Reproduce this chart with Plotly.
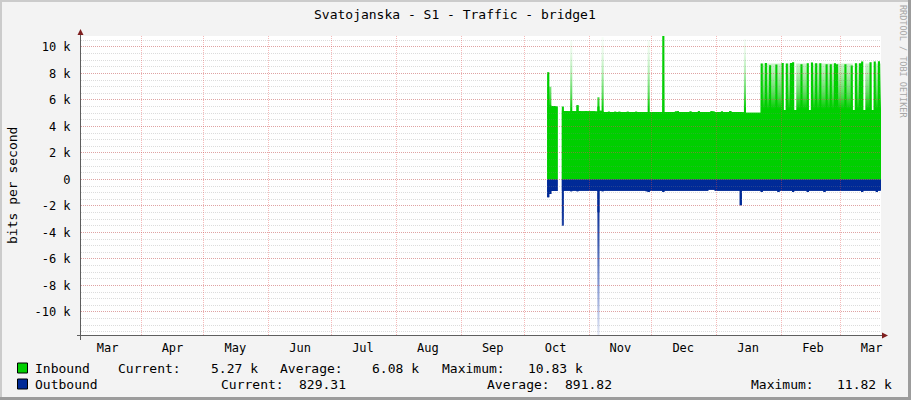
import pandas as pd
import plotly.graph_objects as go

# ---------------- data ----------------
title = "Svatojanska - S1 - Traffic - bridge1"
y_title = "bits per second"

# daily samples from 2018-10-12 to 2019-03-20 (bits per second); None = no data
start_day = "2018-10-12"
n_days = 160

inbound_avg = [
    # Oct 12-31
    8100, 5600, 5550, 5550, 5500, None, None, 5200, 5160, 5160, 5150, 5160, 5160, 5150, 5600, 5160, 5150, 5150, 5160, 5150,
    # Nov
    5150, 5140, 5140, 5130, 5500, 5180, 5150, 5100, 5100, 5110, 5100, 5100, 5120, 5100, 5110, 5100, 5100, 5100, 5110, 5100,
    5100, 5100, 5110, 5100, 5100, 5090, 5100, 5100, 5100, 5100,
    # Dec
    5100, 5090, 5100, 5100, 5090, 10830, 5100, 5090, 5100, 5090, 5100, 5130, 5150, 5100, 5090, 5100, 5100, 5100, 5130, 5090,
    5100, 5100, 5150, 5100, 5090, 5100, 5090, 5100, 5150, 5130, 5100,
    # Jan
    5100, 5100, 5130, 5100, 5090, 5100, 5160, 5100, 5100, 5090, 5100, 5100, 5080, 5040, 5040, 5040, 5030, 5040, 5040, 5030,
    5040, 8750, 5250, 8800, 5250, 8620, 5250, 5250, 8670, 5250, 5250,
    # Feb
    8800, 5250, 8750, 5250, 8800, 8850, 5250, 5250, 5250, 8700, 5250, 5250, 8770, 5250, 8820, 5250, 8770, 5250, 8770, 5250,
    5250, 8700, 5250, 8700, 5250, 8770, 8700, 5250,
    # Mar 1-20
    5250, 5250, 8700, 5250, 5250, 8600, 5250, 8770, 5250, 8770, 8900, 5250, 5250, 5250, 8850, 5250, 8900, 5250, 8920, 5270,
]

inbound_peak = [
    # Oct 12-31
    8100, 7000, 5550, 5550, 5500, None, None, 5500, 5160, 5160, 5150, 10500, 5160, 5150, 5600, 5160, 5150, 5150, 5160, 5150,
    # Nov
    5150, 5140, 5140, 5130, 6200, 5180, 10750, 5100, 5100, 5110, 5100, 5100, 5120, 5100, 5110, 5100, 5100, 5100, 5110, 5100,
    5100, 5100, 5110, 5100, 5100, 5090, 5100, 5100, 10500, 5100,
    # Dec
    5100, 5090, 5100, 5100, 5090, 10830, 5100, 5090, 5100, 5090, 5100, 5130, 5150, 5100, 5090, 5100, 5100, 5100, 5130, 5090,
    5100, 5100, 5150, 5100, 5090, 5100, 5090, 5100, 5150, 5130, 5100,
    # Jan
    5100, 5100, 5130, 5100, 5090, 5100, 5160, 5100, 5100, 5090, 5100, 5100, 5080, 10600, 5040, 5040, 5030, 5040, 5040, 5030,
    5040, 8750, 8750, 8800, 8750, 8750, 8750, 8750, 8750, 8750, 8750,
    # Feb
    8800, 5250, 8750, 8750, 8800, 8850, 5250, 8750, 8750, 8750, 8750, 8750, 8770, 5250, 8820, 8750, 8770, 8750, 8770, 8750,
    8750, 8750, 8750, 8750, 8750, 8770, 8750, 8750,
    # Mar 1-20
    8750, 8750, 8750, 8750, 8750, 8750, 5250, 8770, 8750, 8770, 8900, 5250, 8750, 8750, 8850, 5250, 8900, 8750, 8920, 8750,
]

outbound_avg = [
    # Oct 12-31
    -1350, -1100, -870, -870, -870, None, None, -850, -850, -860, -850, -900, -850, -850, -900, -850, -850, -850, -850, -850,
    # Nov
    -860, -850, -850, -850, -2500, -850, -900, -850, -850, -850, -850, -850, -850, -850, -850, -850, -850, -850, -850, -850,
    -850, -850, -850, -850, -850, -850, -850, -900, -950, -850,
    # Dec
    -850, -850, -850, -850, -850, -950, -850, -850, -850, -850, -850, -850, -850, -850, -850, -850, -850, -850, -850, -850,
    -850, -850, -850, -850, -850, -850, -850, -780, -780, -780, -850,
    # Jan
    -850, -850, -850, -850, -850, -850, -850, -850, -850, -850, -850, -1950, -850, -850, -850, -850, -850, -850, -850, -850,
    -850, -950, -850, -850, -850, -850, -850, -850, -850, -950, -850,
    # Feb
    -850, -850, -850, -850, -850, -950, -850, -850, -850, -850, -850, -850, -950, -850, -850, -850, -850, -850, -850, -850,
    -950, -850, -850, -850, -850, -850, -850, -850,
    # Mar 1-20
    -850, -850, -850, -850, -850, -850, -850, -850, -850, -850, -950, -850, -850, -850, -850, -850, -850, -950, -850, -829,
]

outbound_peak = [
    # Oct 12-31
    -1350, -1100, -870, -870, -870, None, None, -3500, -850, -860, -850, -900, -850, -850, -900, -850, -850, -850, -850, -850,
    # Nov
    -860, -850, -850, -850, -11820, -850, -900, -850, -850, -850, -850, -850, -850, -850, -850, -850, -850, -850, -850, -850,
    -850, -850, -850, -850, -850, -850, -850, -900, -950, -850,
    # Dec
    -850, -850, -850, -850, -850, -950, -850, -850, -850, -850, -850, -850, -850, -850, -850, -850, -850, -850, -850, -850,
    -850, -850, -850, -850, -850, -850, -850, -780, -780, -780, -850,
    # Jan
    -850, -850, -850, -850, -850, -850, -850, -850, -850, -850, -850, -1950, -850, -850, -850, -850, -850, -850, -850, -850,
    -850, -950, -850, -850, -850, -850, -850, -850, -850, -950, -850,
    # Feb
    -850, -850, -850, -850, -850, -950, -850, -850, -850, -850, -850, -850, -950, -850, -850, -850, -850, -850, -850, -850,
    -950, -850, -850, -850, -850, -850, -850, -850,
    # Mar 1-20
    -850, -850, -850, -850, -850, -850, -850, -850, -850, -850, -950, -850, -850, -850, -850, -850, -850, -950, -850, -829,
]

x_range = ["2018-03-03 07:00", "2019-03-20 11:45"]
y_range = [-11820, 10830]

month_labels = ["Mar", "Apr", "May", "Jun", "Jul", "Aug", "Sep", "Oct", "Nov", "Dec", "Jan", "Feb", "Mar"]
month_label_dates = ["2018-03-16", "2018-04-16", "2018-05-16", "2018-06-16", "2018-07-16", "2018-08-16",
                     "2018-09-16", "2018-10-16", "2018-11-16", "2018-12-16", "2019-01-16", "2019-02-16",
                     "2019-03-16"]
month_starts = ["2018-04-01", "2018-05-01", "2018-06-01", "2018-07-01", "2018-08-01", "2018-09-01",
                "2018-10-01", "2018-11-01", "2018-12-01", "2019-01-01", "2019-02-01", "2019-03-01"]

y_tick_vals = [10000, 8000, 6000, 4000, 2000, 0, -2000, -4000, -6000, -8000, -10000]
y_tick_text = ["10 k", "8 k", "6 k", "4 k", "2 k", "0", "-2 k", "-4 k", "-6 k", "-8 k", "-10 k"]

legend_rows = [
    # name, colour, [(label, value), ...]
    ("Inbound", "#00CF00", [("Current:", "5.27 k"), ("Average:", "6.08 k"), ("Maximum:", "10.83 k")]),
    ("Outbound", "#002A97", [("Current:", "829.31"), ("Average:", "891.82"), ("Maximum:", "11.82 k")]),
]

# ---------------- layout geometry (pixels) ----------------
W, H = 911, 400
L, R, T, B = 81, 881, 36, 336
PW, PH = R - L, B - T

def px(x):
    return (x - L) / PW

def py(y):
    return (B - y) / PH

FONT = "DejaVu Sans Mono"
IN_COLOR = "#00CF00"
OUT_COLOR = "#002A97"
MGRID = "rgba(230,70,70,0.38)"
GRID = "rgba(128,128,128,0.28)"

dates = pd.date_range(start_day, periods=n_days, freq="D")
one_day = pd.Timedelta(days=1)


def step_segments(xs, ys):
    """Split a daily series at missing samples; each sample covers one day."""
    segs, cx, cy = [], [], []
    for d, v in zip(xs, ys):
        if v is None:
            if cx:
                segs.append((cx, cy))
            cx, cy = [], []
        else:
            cx.append(d)
            cy.append(v)
    if cx:
        segs.append((cx, cy))
    return [(sx + [sx[-1] + one_day], sy + [sy[-1]]) for sx, sy in segs]


IN_FADE = dict(type="vertical", start=0, stop=10830,
               colorscale=[[0, "#00CF00"], [0.49, "#00CF00"], [0.6, "#5EDC5E"],
                           [0.75, "#B5EEB5"], [0.88, "#E6F9E6"], [1, "#FAFFFA"]])
OUT_FADE = dict(type="vertical", start=-11820, stop=0,
                colorscale=[[0, "#E4E9F6"], [0.3, "#8DA0D6"], [0.6, "#3C5CB0"],
                            [0.8, "#0E339B"], [1, "#002A97"]])

fig = go.Figure()

def add_area(values, **fill):
    for sx, sy in step_segments(list(dates), values):
        fig.add_trace(go.Scatter(
            x=sx, y=sy, mode="lines", line=dict(width=0, shape="hv", simplify=False),
            fill="tozeroy", hoverinfo="skip", showlegend=False, **fill))

add_area(inbound_peak, fillgradient=IN_FADE)
add_area(outbound_peak, fillgradient=OUT_FADE)
add_area(inbound_avg, fillcolor=IN_COLOR)
add_area(outbound_avg, fillcolor=OUT_COLOR)

# grid subplot drawn above the data (RRDtool draws its grid over the graph)
fig.add_trace(go.Scatter(x=[], y=[], xaxis="x2", yaxis="y2", showlegend=False, hoverinfo="skip"))

tickfont = dict(family=FONT, size=12, color="#000000")

fig.update_layout(
    width=W, height=H,
    margin=dict(l=L, r=W - R, t=T, b=H - B, pad=0),
    paper_bgcolor="#F3F3F3",
    plot_bgcolor="rgba(0,0,0,0)",
    showlegend=False,
    hovermode=False,
    xaxis=dict(type="date", range=x_range, domain=[0, 1], anchor="y",
               tickmode="array", tickvals=month_label_dates, ticktext=month_labels,
               showgrid=False, zeroline=False, showline=False,
               ticks="outside", ticklen=1, tickcolor="rgba(0,0,0,0)", tickfont=tickfont),
    yaxis=dict(range=y_range, domain=[0, 1], anchor="x",
               tickmode="array", tickvals=y_tick_vals, ticktext=y_tick_text,
               showgrid=False, zeroline=False, showline=False,
               ticks="outside", ticklen=7, tickcolor="rgba(0,0,0,0)", tickfont=tickfont),
    xaxis2=dict(type="date", range=x_range, domain=[0, 1], anchor="y2",
                tickmode="array", tickvals=month_starts, showticklabels=False, ticks="",
                showgrid=True, gridcolor=MGRID, gridwidth=1, griddash="1px,1px",
                zeroline=False, showline=False),
    yaxis2=dict(range=y_range, domain=[0, 1], anchor="x2",
                tickmode="array", tickvals=y_tick_vals, showticklabels=False, ticks="",
                showgrid=True, gridcolor=MGRID, gridwidth=1, griddash="1px,1px",
                minor=dict(tickmode="linear", tick0=0, dtick=500, showgrid=True,
                           gridcolor=GRID, gridwidth=1, griddash="1px,1px", ticks=""),
                zeroline=False, showline=False),
)

shapes = []
# white canvas
shapes.append(dict(type="rect", xref="paper", yref="paper", x0=0, x1=1, y0=0, y1=1,
                   fillcolor="#FFFFFF", line=dict(width=0), layer="below"))
# image frame (light top/left, dark bottom/right)
shapes.append(dict(type="rect", xref="paper", yref="paper", x0=px(0), x1=px(W), y0=py(0), y1=py(2),
                   fillcolor="#CBCBCB", line=dict(width=0), layer="below"))
shapes.append(dict(type="rect", xref="paper", yref="paper", x0=px(0), x1=px(2), y0=py(0), y1=py(H),
                   fillcolor="#CBCBCB", line=dict(width=0), layer="below"))
shapes.append(dict(type="rect", xref="paper", yref="paper", x0=px(W - 3), x1=px(W), y0=py(0), y1=py(H),
                   fillcolor="#9C9C9C", line=dict(width=0), layer="below"))
shapes.append(dict(type="rect", xref="paper", yref="paper", x0=px(0), x1=px(W), y0=py(H - 3), y1=py(H),
                   fillcolor="#9C9C9C", line=dict(width=0), layer="below"))
# axes
AXIS = "#5E5E5E"
shapes.append(dict(type="line", xref="paper", yref="paper", x0=px(80.5), x1=px(80.5), y0=py(340), y1=py(34),
                   line=dict(color=AXIS, width=1)))
shapes.append(dict(type="line", xref="paper", yref="paper", x0=px(77), x1=px(884), y0=py(335.5), y1=py(335.5),
                   line=dict(color=AXIS, width=1)))
ARROW = "#7F1F1F"
shapes.append(dict(type="path", xref="paper", yref="paper",
                   path=f"M {px(77.5)} {py(35)} L {px(83.5)} {py(35)} L {px(80.5)} {py(29)} Z",
                   fillcolor=ARROW, line=dict(width=0)))
shapes.append(dict(type="path", xref="paper", yref="paper",
                   path=f"M {px(882)} {py(332.5)} L {px(882)} {py(338.5)} L {px(888)} {py(335.5)} Z",
                   fillcolor=ARROW, line=dict(width=0)))

annotations = []

def text(x, y, s, anchor="left", size=13, color="#000000", angle=0):
    annotations.append(dict(x=px(x), y=py(y), xref="paper", yref="paper", text=s, showarrow=False,
                            xanchor=anchor, yanchor="middle", textangle=angle, borderpad=0,
                            font=dict(family=FONT, size=size, color=color)))

text(455, 14, title, anchor="center", size=13)
text(12, 186, y_title, anchor="center", size=13, angle=-90)
text(903, 61, "RRDTOOL / TOBI OETIKER", anchor="center", size=8.5, color="#A6A6A6", angle=90)

# legend
row_y = [368, 384]
label_x = [[116.5, 279, 440.5], [219.5, 485.5, 750]]
value_right = [[258.5, 420, 583.5], [347, 612.5, 892.5]]
for r, (name, colour, stats) in enumerate(legend_rows):
    yc = row_y[r]
    shapes.append(dict(type="rect", xref="paper", yref="paper",
                       x0=px(17.5), x1=px(27.5), y0=py(yc + 5), y1=py(yc - 5),
                       fillcolor=colour, line=dict(color="#000000", width=1)))
    text(33.5, yc, name)
    for k, (lab, val) in enumerate(stats):
        text(label_x[r][k], yc, lab)
        text(value_right[r][k], yc, val, anchor="right")

fig.update_layout(shapes=shapes, annotations=annotations)

# remove the browser's default 8px body margin so the figure sits at the page origin
fig.write_html("out.html", config={"displayModeBar": False},
               post_script="document.body.style.margin='0';")
